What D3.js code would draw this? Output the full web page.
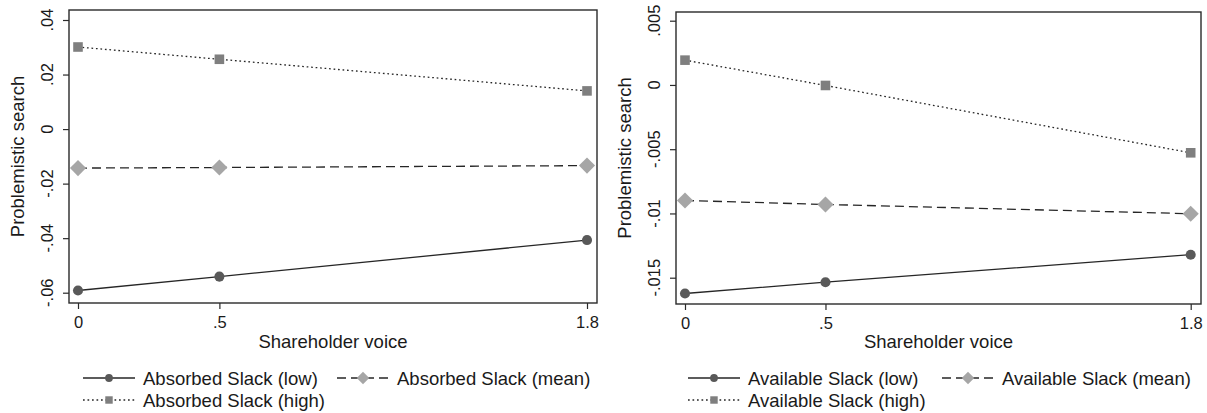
<!DOCTYPE html>
<html lang="en">
<head>
<meta charset="utf-8">
<title>Problemistic search</title>
<script src="https://cdn.jsdelivr.net/npm/d3@7"></script>
<style>
  body { margin: 0; background: #fff; }
  text { font-family: Arial, "Liberation Sans", sans-serif; fill: #1a1a1a; }
</style>
</head>
<body>
<script>
// shareholder voice levels
var voice = [0, 0.5, 1.8];
var voiceLabels = ["0", ".5", "1.8"];

// left panel: absorbed slack
var absorbedLow  = [-0.0592, -0.0541, -0.0407];
var absorbedMean = [-0.0143, -0.0141, -0.0134];
var absorbedHigh = [0.0301, 0.0256, 0.0140];
var absorbedTicks = [0.04, 0.02, 0, -0.02, -0.04, -0.06];
var absorbedTickLabels = [".04", ".02", "0", "-.02", "-.04", "-.06"];
var absorbedNames = ["Absorbed Slack (low)", "Absorbed Slack (mean)", "Absorbed Slack (high)"];

// right panel: available slack
var availableLow  = [-0.01623, -0.01535, -0.01321];
var availableMean = [-0.00899, -0.0093, -0.01002];
var availableHigh = [0.00193, -0.00004, -0.00528];
var availableTicks = [0.005, 0, -0.005, -0.01, -0.015];
var availableTickLabels = [".005", "0", "-.005", "-.01", "-.015"];
var availableNames = ["Available Slack (low)", "Available Slack (mean)", "Available Slack (high)"];

var w = 1207, h = 413;

var svg = d3.select("body").append("svg")
    .attr("width", w)
    .attr("height", h);

// square turned 45 degrees, like the stata diamond
var diamond = {
  draw: function(ctx, size) {
    var r = Math.sqrt(size / 2);
    ctx.moveTo(0, -r); ctx.lineTo(r, 0); ctx.lineTo(0, r); ctx.lineTo(-r, 0); ctx.closePath();
  }
};

// line / marker styles for low, mean, high
var styles = [
  { dash: null,      stroke: "#262626", fill: "#595959", symbol: d3.symbolCircle, size: 80 },
  { dash: "9,5",     stroke: "#262626", fill: "#a6a6a6", symbol: diamond,         size: 130 },
  { dash: "1.7,2.8", stroke: "#262626", fill: "#7f7f7f", symbol: d3.symbolSquare, size: 92 }
];

function drawPanel(p) {
  var g = svg.append("g");

  var x = d3.scaleLinear().domain([0, 1.8]).range([p.x0, p.x1]);
  var y = d3.scaleLinear().domain(p.yDomain).range(p.yRange);

  // frame
  g.append("rect")
    .attr("x", p.left).attr("y", p.top)
    .attr("width", p.right - p.left).attr("height", p.bottom - p.top)
    .attr("fill", "none").attr("stroke", "#2a2a2a").attr("stroke-width", 1.4);

  // y axis
  var yAxis = g.append("g")
    .attr("transform", "translate(" + p.left + ",0)")
    .call(d3.axisLeft(y).tickValues(p.ticks).tickSize(6).tickFormat(""));
  yAxis.select(".domain").remove();
  yAxis.selectAll("line").attr("stroke", "#2a2a2a").attr("stroke-width", 1.2);

  g.selectAll(".ylab")
    .data(p.ticks)
    .enter().append("text")
    .attr("transform", function(d) { return "translate(" + (p.left - 22) + "," + y(d) + ") rotate(-90)"; })
    .attr("text-anchor", "middle")
    .attr("dy", "0.35em")
    .style("font-size", "16.5px")
    .text(function(d, i) { return p.tickLabels[i]; });

  // x axis
  var xAxis = g.append("g")
    .attr("transform", "translate(0," + p.bottom + ")")
    .call(d3.axisBottom(x).tickValues(voice).tickSize(6).tickFormat(function(d, i) { return voiceLabels[i]; }));
  xAxis.select(".domain").remove();
  xAxis.selectAll("line").attr("stroke", "#2a2a2a").attr("stroke-width", 1.2);
  xAxis.selectAll("text")
    .attr("y", 13)
    .style("font-size", "16.5px")
    .style("font-family", "Arial, 'Liberation Sans', sans-serif")
    .attr("fill", "#1a1a1a");

  // axis titles
  g.append("text")
    .attr("transform", "translate(" + (p.left - 51) + "," + ((p.top + p.bottom) / 2) + ") rotate(-90)")
    .attr("text-anchor", "middle")
    .attr("dy", "0.35em")
    .style("font-size", "18.5px")
    .text("Problemistic search");

  g.append("text")
    .attr("x", (p.left + p.right) / 2)
    .attr("y", 348)
    .attr("text-anchor", "middle")
    .style("font-size", "18.5px")
    .text("Shareholder voice");

  // series
  var line = d3.line()
    .x(function(d, i) { return x(voice[i]); })
    .y(function(d) { return y(d); });

  p.series.forEach(function(s, k) {
    var st = styles[k];
    g.append("path")
      .datum(s)
      .attr("d", line)
      .attr("fill", "none")
      .attr("stroke", st.stroke)
      .attr("stroke-width", 1.3)
      .attr("stroke-dasharray", st.dash);

    g.selectAll(".m" + k)
      .data(s)
      .enter().append("path")
      .attr("transform", function(d, i) { return "translate(" + x(voice[i]) + "," + y(d) + ")"; })
      .attr("d", d3.symbol().type(st.symbol).size(st.size))
      .attr("fill", st.fill);
  });

  // legend
  var items = p.names.map(function(n, k) {
    return { name: n, k: k, col: k === 1 ? 1 : 0, row: k === 2 ? 1 : 0 };
  });
  var leg = g.selectAll(".leg")
    .data(items)
    .enter().append("g")
    .attr("transform", function(d) {
      return "translate(" + p.legendCols[d.col] + "," + (d.row === 0 ? 378 : 400) + ")";
    });
  leg.append("line")
    .attr("x1", 0).attr("x2", 52)
    .attr("stroke", function(d) { return styles[d.k].stroke; })
    .attr("stroke-width", 1.3)
    .attr("stroke-dasharray", function(d) { return styles[d.k].dash; });
  leg.append("path")
    .attr("transform", "translate(26,0)")
    .attr("d", function(d) { return d3.symbol().type(styles[d.k].symbol).size(styles[d.k].size * 0.6)(); })
    .attr("fill", function(d) { return styles[d.k].fill; });
  leg.append("text")
    .attr("x", 60)
    .attr("dy", "0.36em")
    .style("font-size", "18.5px")
    .text(function(d) { return d.name; });
}

drawPanel({
  left: 69, right: 597, top: 10, bottom: 303,
  x0: 78, x1: 587,
  yDomain: [-0.06, 0.04], yRange: [292.7, 20],
  ticks: absorbedTicks, tickLabels: absorbedTickLabels,
  series: [absorbedLow, absorbedMean, absorbedHigh],
  names: absorbedNames,
  legendCols: [83, 337]
});

drawPanel({
  left: 676, right: 1201, top: 12, bottom: 304,
  x0: 685, x1: 1190.7,
  yDomain: [-0.015, 0.005], yRange: [277.7, 20.7],
  ticks: availableTicks, tickLabels: availableTickLabels,
  series: [availableLow, availableMean, availableHigh],
  names: availableNames,
  legendCols: [688, 942]
});
</script>
</body>
</html>
